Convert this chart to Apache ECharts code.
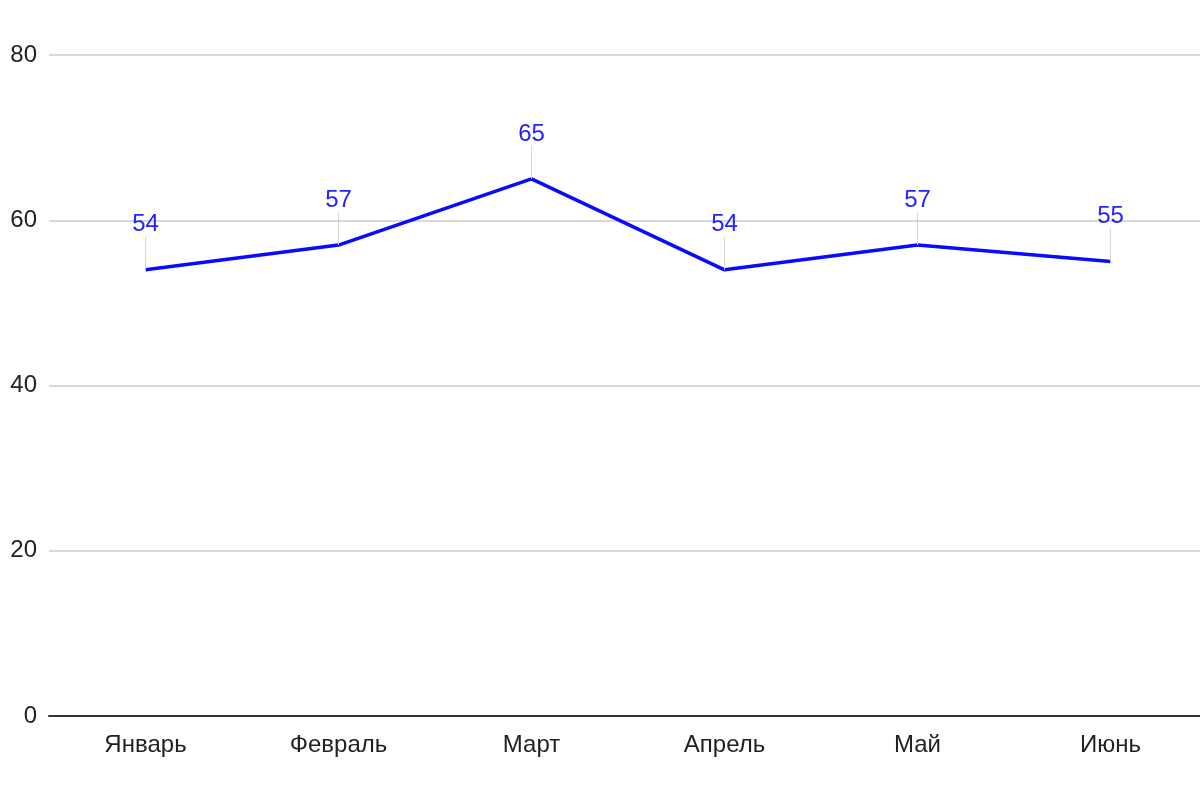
<!DOCTYPE html>
<html>
<head>
<meta charset="utf-8">
<script src="https://cdn.jsdelivr.net/npm/echarts@6/dist/echarts.min.js"></script>
<style>html,body{margin:0;padding:0;background:#fff}#c{width:1200px;height:800px}</style>
</head>
<body>
<div id="c"></div>
<script>
const categories = ['Январь', 'Февраль', 'Март', 'Апрель', 'Май', 'Июнь'];
const values = [54, 57, 65, 54, 57, 55];
const yTicks = [0, 20, 40, 60, 80];

const chart = echarts.init(document.getElementById('c'), null, {renderer: 'canvas'});
chart.setOption({
  animation: false,
  backgroundColor: '#ffffff',
  grid: {left: 49, right: -7, top: 55, bottom: 84, outerBoundsMode: 'none', containLabel: false},
  xAxis: {
    type: 'category',
    data: categories,
    boundaryGap: true,
    axisLine: {show: true, lineStyle: {color: '#333', width: 2}},
    axisTick: {show: false},
    axisLabel: {color: '#222', fontSize: 24, fontFamily: 'Liberation Sans, Arial, sans-serif', margin: 17}
  },
  yAxis: {
    type: 'value',
    min: yTicks[0],
    max: yTicks[yTicks.length - 1],
    interval: 20,
    axisLine: {show: false},
    axisTick: {show: false},
    splitLine: {lineStyle: {color: '#d9d9d9', width: 2}},
    axisLabel: {color: '#222', fontSize: 24, fontFamily: 'Liberation Sans, Arial, sans-serif', margin: 12}
  },
  series: [{
    type: 'line',
    data: values,
    symbol: 'circle',
    symbolSize: 0.1,
    showSymbol: true,
    lineStyle: {color: '#0a0aff', width: 3.5},
    itemStyle: {color: '#0a0aff'},
    label: {
      show: true,
      position: 'top',
      distance: 5,
      color: '#2323ff',
      fontSize: 24,
      fontFamily: 'Liberation Sans, Arial, sans-serif'
    },
    labelLayout: {dy: -28},
    labelLine: {show: true, lineStyle: {color: '#d6d6d6', width: 1}}
  }]
});
</script>
</body>
</html>
